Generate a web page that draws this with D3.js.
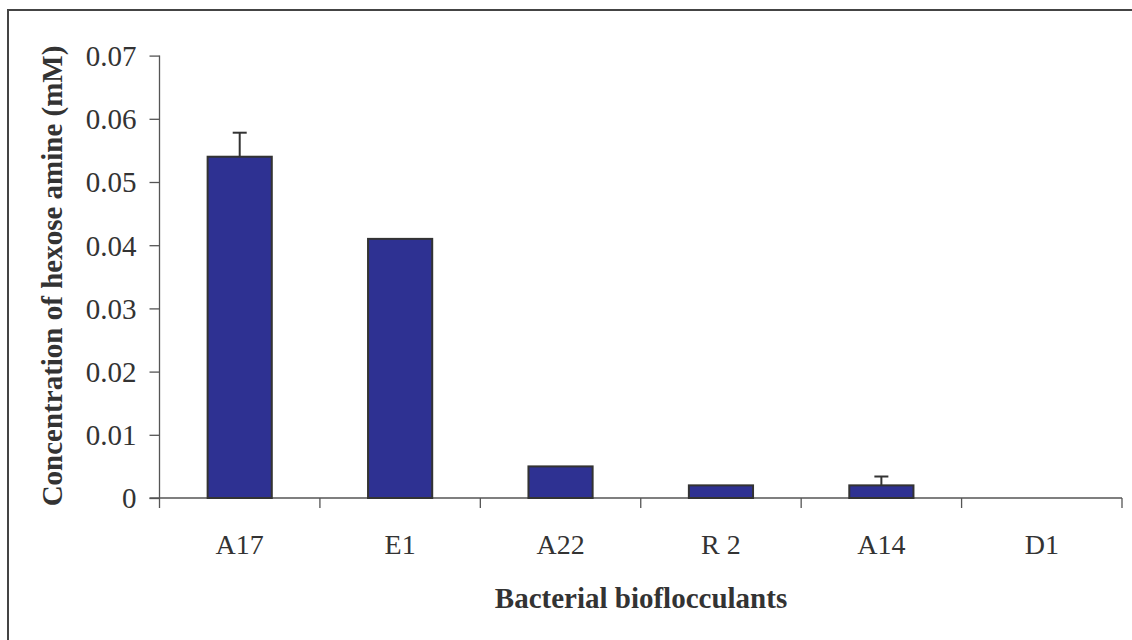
<!DOCTYPE html>
<html><head><meta charset="utf-8">
<script src="https://cdn.jsdelivr.net/npm/d3@7"></script>
<style>body{margin:0;background:#fff}svg{display:block}</style>
</head><body>
<svg id="c" width="1132" height="640"></svg>
<script>
const categories = ["A17", "E1", "A22", "R 2", "A14", "D1"];
const values = [0.054, 0.041, 0.005, 0.002, 0.002, 0];
const errors = [0.0038, 0, 0, 0, 0.0014, 0];
const yTicks = [0, 0.01, 0.02, 0.03, 0.04, 0.05, 0.06, 0.07];
const yTitle = "Concentration of hexose amine (mM)";
const xTitle = "Bacterial bioflocculants";

(function () {
const svg = d3.select("#c");
const pLeft = 159.5, pRight = 1122, pTop = 55.6, pBottom = 498;
const font = "'Liberation Serif', 'Times New Roman', serif";
const ink = "#333";

svg.append("rect").attr("x", 8).attr("y", 10).attr("width", 1140).attr("height", 640)
  .attr("fill", "none").attr("stroke", "#444").attr("stroke-width", 2);

const x = d3.scaleBand().domain(categories).range([pLeft, pRight]).paddingInner(0.6).paddingOuter(0.3);
const y = d3.scaleLinear().domain([0, 0.07]).range([pBottom, pTop]);

// y axis
const yAxis = svg.append("g").attr("transform", `translate(${pLeft},0)`)
  .call(d3.axisLeft(y).tickValues(yTicks).tickFormat(d => d === 0 ? "0" : d3.format(".2f")(d)).tickSize(10).tickPadding(13));
yAxis.select(".domain").attr("stroke", "#555").attr("stroke-width", 1.3).attr("d", `M0,${pTop}V${pBottom}`);
yAxis.selectAll(".tick line").attr("stroke", "#555").attr("stroke-width", 1.3);
yAxis.selectAll(".tick text").attr("fill", ink).style("font-family", font).style("font-size", "29px").attr("dy", "0.34em");

// x axis
const xb = d3.scaleLinear().domain([0, categories.length]).range([pLeft, pRight]);
const xAxis = svg.append("g").attr("transform", `translate(0,${pBottom})`);
xAxis.append("line").attr("x1", pLeft - 10).attr("x2", pRight).attr("y1", 0).attr("y2", 0)
  .attr("stroke", "#555").attr("stroke-width", 1.3);
xAxis.selectAll("line.t").data(d3.range(categories.length + 1)).join("line").attr("class", "t")
  .attr("x1", d => xb(d)).attr("x2", d => xb(d)).attr("y1", 0).attr("y2", 10)
  .attr("stroke", "#555").attr("stroke-width", 1.3);
xAxis.selectAll("text").data(categories).join("text")
  .attr("x", d => x(d) + x.bandwidth() / 2).attr("y", 55.5)
  .attr("text-anchor", "middle").attr("fill", ink)
  .style("font-family", font).style("font-size", "28px").text(d => d);

// bars
svg.append("g").selectAll("rect").data(categories).join("rect")
  .attr("x", d => x(d)).attr("width", x.bandwidth())
  .attr("y", (d, i) => y(values[i])).attr("height", (d, i) => y(0) - y(values[i]))
  .attr("fill", "#2E3192").attr("stroke", ink)
  .attr("stroke-width", (d, i) => values[i] > 0 ? 2 : 0);

// error bars
const eg = svg.append("g").attr("stroke", ink).attr("stroke-width", 2);
categories.forEach((c, i) => {
  if (errors[i] <= 0) return;
  const cx = x(c) + x.bandwidth() / 2;
  eg.append("line").attr("x1", cx).attr("x2", cx).attr("y1", y(values[i])).attr("y2", y(values[i] + errors[i]));
  eg.append("line").attr("x1", cx - 7).attr("x2", cx + 7).attr("y1", y(values[i] + errors[i])).attr("y2", y(values[i] + errors[i]));
});

// titles
svg.append("text").attr("x", 641).attr("y", 608).attr("text-anchor", "middle")
  .attr("fill", ink).style("font-family", font).style("font-weight", "bold").style("font-size", "29px").text(xTitle);
svg.append("text").attr("transform", `translate(62,276) rotate(-90)`).attr("text-anchor", "middle")
  .attr("fill", ink).style("font-family", font).style("font-weight", "bold").style("font-size", "29px").text(yTitle);
})();
</script>
</body></html>
